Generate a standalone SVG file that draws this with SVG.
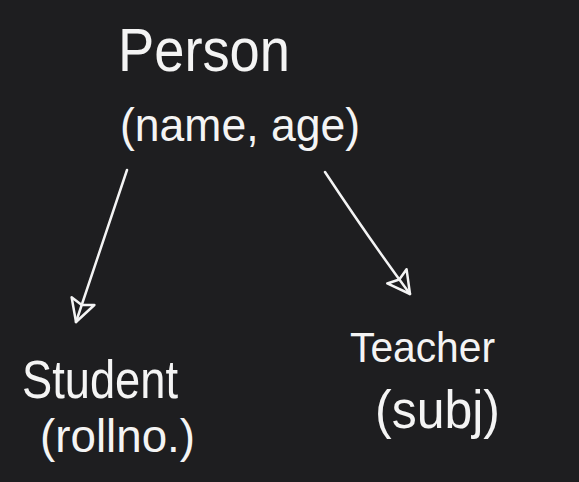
<svg xmlns="http://www.w3.org/2000/svg" width="579" height="482" viewBox="0 0 579 482">
<style>
.t{fill:#f4f4f4;font-family:"Liberation Sans","DejaVu Sans",sans-serif;font-weight:normal}
.c{stroke:#f4f4f4;stroke-width:2.5;fill:none;stroke-linecap:round;stroke-linejoin:round}
</style>
<defs>
<marker id="ah" viewBox="0 0 30 30" refX="28" refY="15" markerWidth="30" markerHeight="30" markerUnits="userSpaceOnUse" orient="auto">
<path d="M28,15 L6,3 L10,15 L6,27 Z" fill="none" stroke="#f4f4f4" stroke-width="2.5" stroke-linejoin="round"/>
</marker>
</defs>
<rect width="579" height="482" fill="#1e1e20"/>
<g id="person">
<text class="t" x="118" y="71" font-size="62" textLength="172" lengthAdjust="spacingAndGlyphs">Person</text>
<text class="t" x="120" y="141" font-size="46" textLength="240" lengthAdjust="spacingAndGlyphs">(name, age)</text>
</g>
<g id="student">
<text class="t" x="22" y="398" font-size="54" textLength="156" lengthAdjust="spacingAndGlyphs">Student</text>
<text class="t" x="40" y="452" font-size="46" textLength="155" lengthAdjust="spacingAndGlyphs">(rollno.)</text>
</g>
<g id="teacher">
<text class="t" x="350" y="362" font-size="42" textLength="145" lengthAdjust="spacingAndGlyphs">Teacher</text>
<text class="t" x="375" y="428" font-size="54" textLength="125" lengthAdjust="spacingAndGlyphs">(subj)</text>
</g>
<g id="connectors">
<path class="c" d="M127,170 L76,322" marker-end="url(#ah)"/>
<path class="c" d="M325,172 Q370,240 410,294" marker-end="url(#ah)"/>
</g>
</svg>
